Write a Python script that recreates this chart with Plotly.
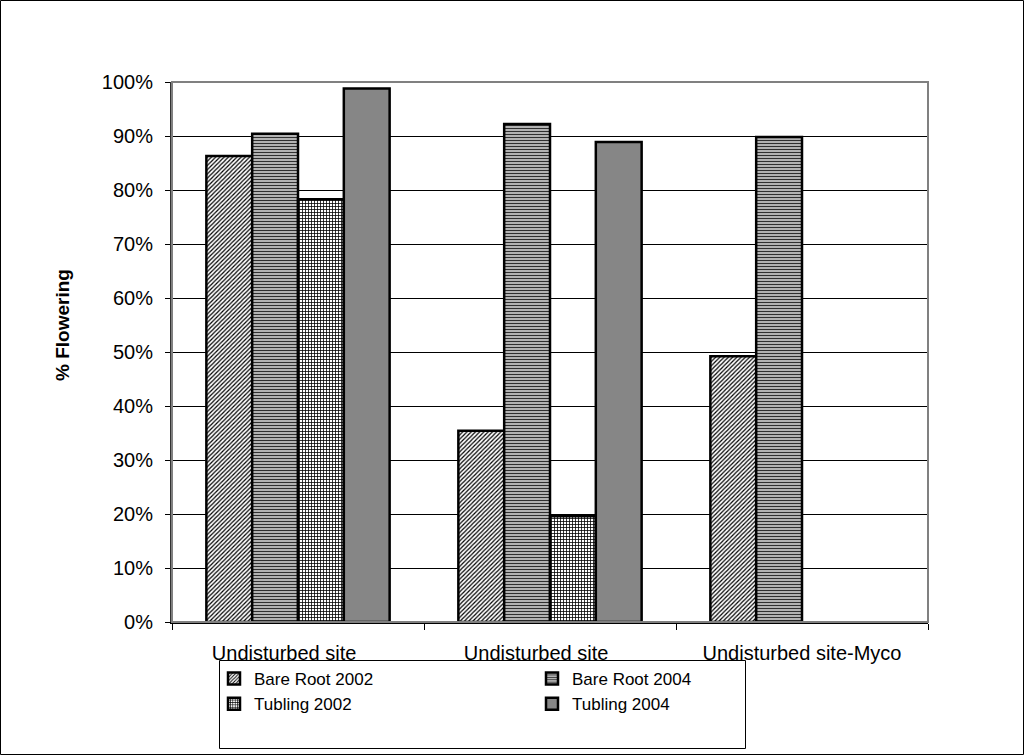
import plotly.graph_objects as go

categories = ["Undisturbed site (1)", "Undisturbed site (2)", "Undisturbed site-Myco"]
tick_labels = ["Undisturbed site\u00a0\u00a0\u00a0\u00a0\u00a0", "Undisturbed site\u00a0\u00a0\u00a0\u00a0\u00a0", "Undisturbed site-Myco"]
series_names = ["Bare Root 2002", "Bare Root 2004", "Tubling 2002", "Tubling 2004"]
bare_root_2002 = [0.863, 0.354, 0.492]
bare_root_2004 = [0.904, 0.922, 0.898]
tubling_2002 = [0.783, 0.196, None]
tubling_2004 = [0.988, 0.889, None]
y_ticks = [0, 0.1, 0.2, 0.3, 0.4, 0.5, 0.6, 0.7, 0.8, 0.9, 1.0]
y_title = "% Flowering"

styles = [
    dict(shape="/", fgcolor="#000000", bgcolor="#ffffff", size=3, solidity=0.4),
    dict(shape="-", fgcolor="#303030", bgcolor="#c0c0c0", size=3, solidity=0.4),
    dict(shape="+", fgcolor="#000000", bgcolor="#ffffff", size=3, solidity=0.45),
    dict(shape=".", fgcolor="#5a5a5a", bgcolor="#a8a8a8", size=2, solidity=0.5),
]

W, H = 1024, 755
ml, mr, mt, mb = 172, 96, 82, 133
pw, ph = W - ml - mr, H - mt - mb

fig = go.Figure()
for name, vals, st in zip(series_names, [bare_root_2002, bare_root_2004, tubling_2002, tubling_2004], styles):
    fig.add_trace(go.Bar(
        x=categories, y=vals, name=name,
        marker=dict(color=st["bgcolor"], line=dict(color="#000000", width=2.5),
                    pattern=dict(shape=st["shape"], fgcolor=st["fgcolor"], bgcolor=st["bgcolor"],
                                 size=st["size"], solidity=st["solidity"], fillmode="replace")),
    ))

font_family = "Liberation Sans, Arial, sans-serif"

def px_x(p):
    return (p - ml) / pw

def px_y(p):
    return (H - mb - p) / ph

fig.update_layout(
    width=W, height=H,
    margin=dict(l=ml, r=mr, t=mt, b=mb, autoexpand=False),
    paper_bgcolor="#ffffff", plot_bgcolor="#ffffff",
    barmode="group", bargap=1.5 / 5.5, bargroupgap=0,
    font=dict(family=font_family, size=20, color="#000000"),
    showlegend=True,
    legend=dict(orientation="h", x=px_x(214), xanchor="left", y=px_y(661), yanchor="top",
                borderwidth=0, bgcolor="rgba(0,0,0,0)",
                entrywidth=273, entrywidthmode="pixels",
                font=dict(size=17, family=font_family), traceorder="normal"),
    xaxis=dict(type="category", tickson="boundaries", ticks="outside", ticklen=6, tickcolor="#000000",
               tickvals=categories, ticktext=tick_labels,
               showline=True, linecolor="#000000", linewidth=2, showgrid=False,
               tickfont=dict(size=20), ticklabelstandoff=12),
    yaxis=dict(range=[0, 1], tickvals=y_ticks, tickformat=".0%", ticks="outside", ticklen=5,
               tickcolor="#000000", showline=True, linecolor="#333333", linewidth=2,
               showgrid=True, gridcolor="#000000", gridwidth=1, zeroline=False,
               tickfont=dict(size=20), ticklabelstandoff=8),
    annotations=[
        dict(text="<b>" + y_title + "</b>", textangle=-90, xref="paper", yref="paper",
             x=px_x(62), y=px_y(325), xanchor="center", yanchor="middle", showarrow=False,
             font=dict(size=19, family=font_family)),
    ],
    shapes=[
        dict(type="rect", xref="paper", yref="paper", x0=0, x1=1, y0=0, y1=1,
             line=dict(color="#808080", width=2), layer="above"),
        dict(type="rect", xref="paper", yref="paper",
             x0=px_x(219.5), x1=px_x(745.5), y0=px_y(748.5), y1=px_y(660.5),
             line=dict(color="#000000", width=1)),
        dict(type="rect", xref="paper", yref="paper",
             x0=px_x(0.5), x1=px_x(1023.5), y0=px_y(754.5), y1=px_y(0.5),
             line=dict(color="#000000", width=1)),
    ],
)

fig.write_html("out.html", config={"displayModeBar": False},
               post_script="document.body.style.margin='0px';document.body.style.overflow='hidden';")
